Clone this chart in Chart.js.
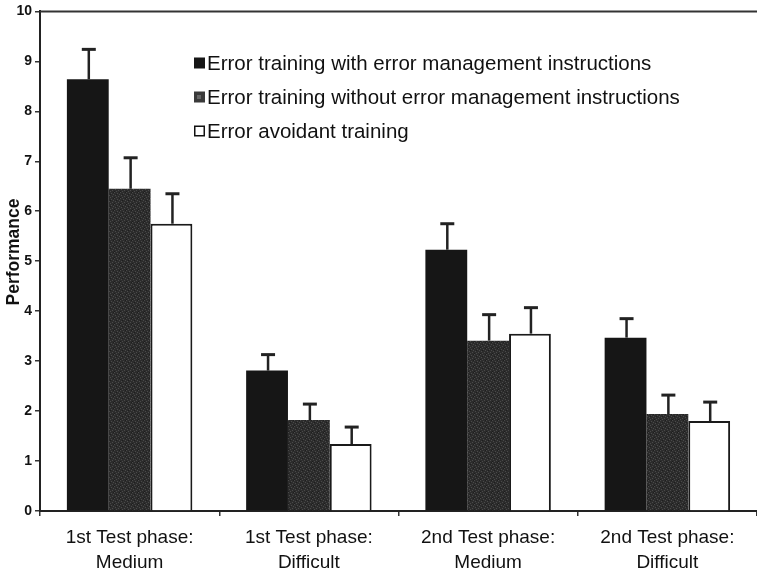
<!DOCTYPE html>
<html>
<head>
<meta charset="utf-8">
<script src="https://cdn.jsdelivr.net/npm/chart.js@4/dist/chart.umd.min.js"></script>
<style>
html,body{margin:0;padding:0;background:#fff;}
#wrap{width:757px;height:573px;position:relative;}
</style>
</head>
<body>
<div id="wrap"><canvas id="c" width="757" height="573"></canvas></div>
<script>
const categories = [["1st Test phase:","Medium"],["1st Test phase:","Difficult"],["2nd Test phase:","Medium"],["2nd Test phase:","Difficult"]];
const seriesLabels = ["Error training with error management instructions","Error training without error management instructions","Error avoidant training"];
const yAxisTitle = "Performance";
const withEM = [8.64, 2.81, 5.23, 3.47];
const withEMErr = [0.60, 0.32, 0.52, 0.38];
const withoutEM = [6.45, 1.82, 3.41, 1.94];
const withoutEMErr = [0.62, 0.32, 0.52, 0.38];
const avoidant = [5.75, 1.34, 3.55, 1.80];
const avoidantErr = [0.60, 0.34, 0.52, 0.38];
const yTicks = [0,1,2,3,4,5,6,7,8,9,10];

const FONT = "'Liberation Sans', Arial, Helvetica, sans-serif";

// speckled gray pattern
function makePattern(){
  const pc = document.createElement('canvas');
  pc.width = 6; pc.height = 6;
  const g = pc.getContext('2d');
  g.fillStyle = '#2c2c2c'; g.fillRect(0,0,6,6);
  g.fillStyle = '#4a4a4a';
  [[0,0],[3,1],[1,3],[4,4],[2,5],[5,2]].forEach(p=>g.fillRect(p[0],p[1],1,1));
  g.fillStyle = '#1e1e1e';
  [[2,2],[5,0],[0,5]].forEach(p=>g.fillRect(p[0],p[1],1,1));
  return g.createPattern(pc,'repeat');
}
const grayPattern = makePattern();

const errors = [withEMErr, withoutEMErr, avoidantErr];

const errorBarPlugin = {
  id:'errorBars',
  afterDatasetsDraw(chart){
    const ctx = chart.ctx;
    const y = chart.scales.y;
    ctx.save();
    ctx.strokeStyle = '#222';
    chart.data.datasets.forEach((ds,di)=>{
      const meta = chart.getDatasetMeta(di);
      meta.data.forEach((bar,i)=>{
        const top = y.getPixelForValue(ds.data[i] + errors[di][i]);
        const base = bar.y;
        const x = bar.x + 1;
        ctx.lineWidth = 2.5;
        ctx.beginPath(); ctx.moveTo(x, base); ctx.lineTo(x, top); ctx.stroke();
        ctx.lineWidth = 3;
        ctx.beginPath(); ctx.moveTo(x-7, top); ctx.lineTo(x+7, top); ctx.stroke();
      });
    });
    ctx.restore();
  }
};

const framePlugin = {
  id:'frame',
  afterDraw(chart){
    const ctx = chart.ctx, a = chart.chartArea;
    ctx.save();
    ctx.strokeStyle = '#333';
    ctx.lineWidth = 2;
    ctx.beginPath(); ctx.moveTo(a.left, a.top); ctx.lineTo(chart.width, a.top); ctx.stroke();
    // y-axis title
    ctx.translate(14, 252);
    ctx.rotate(-Math.PI/2);
    ctx.font = "bold 17.5px " + FONT;
    ctx.fillStyle = '#111';
    ctx.textAlign = 'center';
    ctx.textBaseline = 'middle';
    ctx.fillText(yAxisTitle, 0, 0);
    ctx.restore();
  }
};

const legendPlugin = {
  id:'customLegend',
  afterDraw(chart){
    const ctx = chart.ctx;
    ctx.save();
    ctx.font = "20.5px " + FONT;
    ctx.textBaseline = 'middle';
    ctx.textAlign = 'left';
    const x0 = 194, y0 = 63, dy = 34, sz = 11;
    chart.data.datasets.forEach((ds,i)=>{
      const yy = y0 + i*dy;
      if(i===2){
        ctx.fillStyle = '#fff';
        ctx.fillRect(x0, yy-sz/2, sz, sz);
        ctx.strokeStyle = '#111'; ctx.lineWidth = 1.5;
        ctx.strokeRect(x0+0.75, yy-sz/2+0.75, sz-1.5, sz-1.5);
      } else {
        ctx.fillStyle = i===0 ? '#161616' : '#3a3a3a';
        ctx.fillRect(x0, yy-sz/2, sz, sz);
        if(i===1){ ctx.fillStyle='#666'; ctx.fillRect(x0+3,yy-2,4,4); }
      }
      ctx.fillStyle = '#111';
      ctx.fillText(ds.label, x0+13, yy+1);
    });
    ctx.restore();
  }
};

new Chart(document.getElementById('c'), {
  type:'bar',
  data:{
    labels: categories,
    datasets:[
      {label: seriesLabels[0], data: withEM, backgroundColor:'#161616', borderWidth:0},
      {label: seriesLabels[1], data: withoutEM, backgroundColor: grayPattern, borderWidth:0},
      {label: seriesLabels[2], data: avoidant, backgroundColor:'#ffffff', borderColor:'#1a1a1a', borderWidth:2}
    ]
  },
  options:{
    responsive:false,
    animation:false,
    devicePixelRatio:1,
    layout:{padding:{top:10,right:0,left:0,bottom:0}},
    datasets:{bar:{categoryPercentage:0.70, barPercentage:1.0}},
    plugins:{legend:{display:false}, tooltip:{enabled:false}},
    scales:{
      x:{
        grid:{display:true, drawOnChartArea:false, offset:true, tickLength:5, color:'#333', lineWidth:1.5},
        border:{display:true, color:'#222', width:2},
        ticks:{color:'#111', font:{family:FONT, size:19, lineHeight:1.32}, padding:9, maxRotation:0, autoSkip:false},
        afterFit(s){ s.height = 62; }
      },
      y:{
        min:0, max:10,
        afterBuildTicks(s){ s.ticks = yTicks.map(v=>({value:v})); },
        grid:{display:true, drawOnChartArea:false, tickLength:5, color:'#333', lineWidth:1.5},
        border:{display:true, color:'#222', width:2},
        ticks:{color:'#111', font:{family:FONT, size:14, weight:'bold'}, padding:3},
        afterFit(s){ s.width = 40; }
      }
    }
  },
  plugins:[errorBarPlugin, framePlugin, legendPlugin]
});
</script>
</body>
</html>
